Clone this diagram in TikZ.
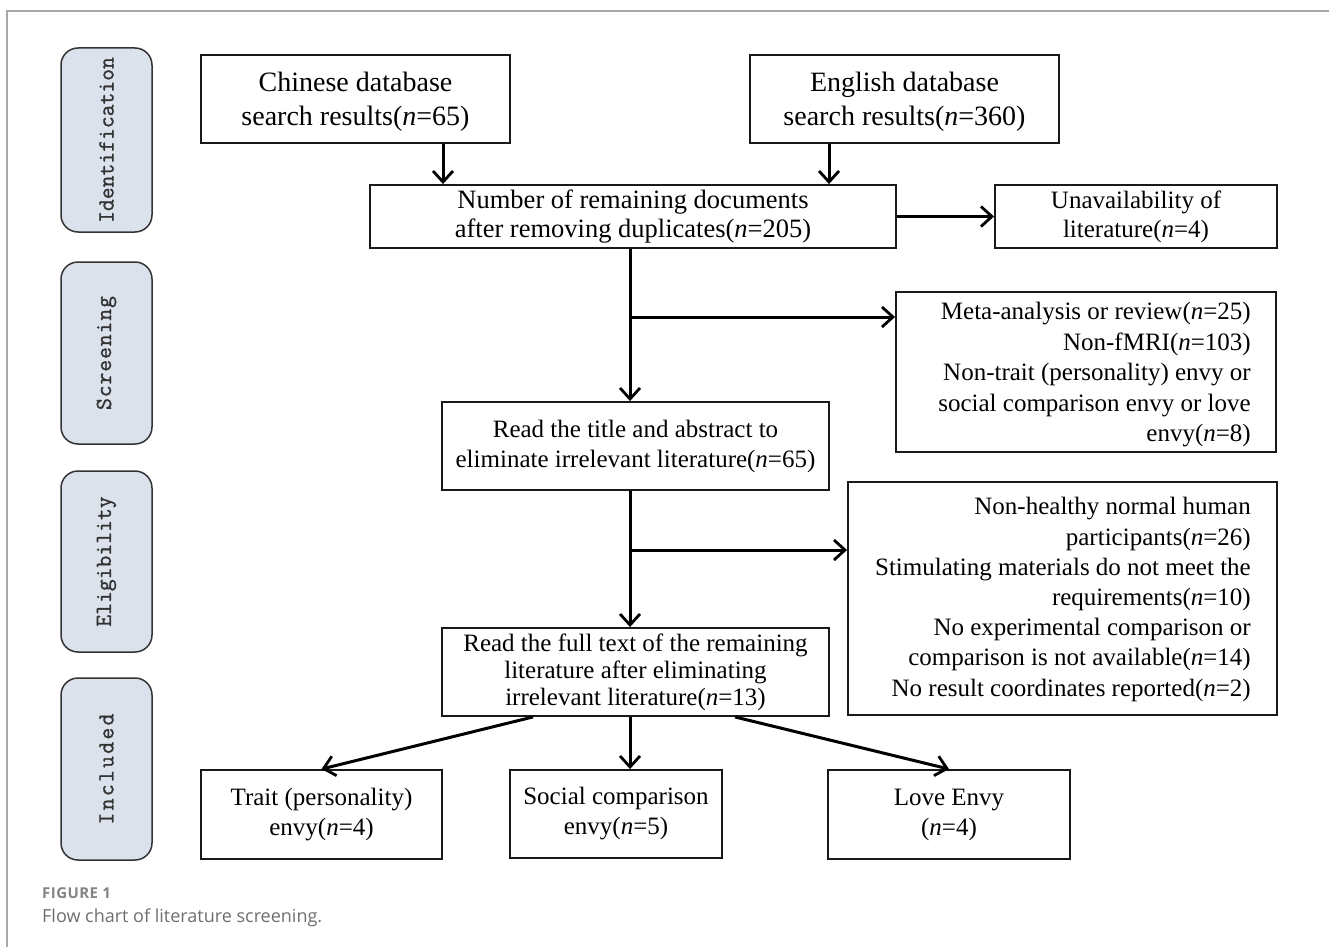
\documentclass[tikz,border=0pt]{standalone}
\usepackage{fontspec}
\setmainfont{Liberation Serif}
\newfontfamily\capfont{Open Sans}
\newfontfamily\stagefont[FakeBold=1.2]{Latin Modern Mono}
\usetikzlibrary{arrows.meta,calc}
\definecolor{stagefill}{HTML}{DCE2EC}
\definecolor{stageline}{HTML}{333333}
\definecolor{framegray}{HTML}{A8A8A8}
\definecolor{capgray}{HTML}{6E6E6E}
\tikzset{
  box/.style={draw=black!90, line width=1.9pt, inner sep=0pt, align=center,
              font=\fontsize{25}{30}\selectfont},
  rtext/.style={inner sep=0pt, align=right, anchor=east,
              font=\fontsize{25}{30.5}\selectfont},
  ctext/.style={inner sep=0pt, align=center},
  stage/.style={draw=stageline, fill=stagefill, line width=1.5pt, rounded corners=17pt,
              minimum width=91pt, inner sep=0pt},
  stagetext/.style={rotate=90, text=stageline, font=\stagefont\fontsize{23}{26}\selectfont},
  arr/.style={line width=3pt, -{Straight Barb[length=11pt,width=20pt,line width=2.8pt]}},
}
\begin{document}
\begin{tikzpicture}[x=1pt,y=-1pt]
\useasboundingbox (0,0) rectangle (1329,947);
% frame
\draw[framegray, line width=2pt] (1329,11) -- (7,11) -- (7,947);

% stage boxes
\node[stage, minimum height=184pt] (s1) at (106.5,140) {};
\node[stagetext] (t1) at (s1.center) {Identification};
\node[stage, minimum height=182pt] (s2) at (106.5,353) {};
\node[stagetext] (t2) at (s2.center) {\addfontfeatures{LetterSpace=4}Screening};
\node[stage, minimum height=181pt] (s3) at (106.5,561.5) {};
\node[stagetext] (t3) at (s3.center) {Eligibility};
\node[stage, minimum height=182pt] (s4) at (106.5,769) {};
\node[stagetext] (t4) at (s4.center) {\addfontfeatures{LetterSpace=10}Included};

% main boxes
\node[box, minimum width=309pt, minimum height=88pt] (chin) at (355.5,99) {};
\node[ctext, font=\fontsize{28}{34}\selectfont] (chint) at ([yshift=-3pt]chin.center)
  {Chinese database\\search results(\textit{n}=65)};
\node[box, minimum width=309pt, minimum height=88pt] (eng) at (904.5,99) {};
\node[ctext, font=\fontsize{28}{34}\selectfont] (engt) at ([yshift=-3pt]eng.center)
  {English database\\search results(\textit{n}=360)};
\node[box, minimum width=526pt, minimum height=63pt, font=\fontsize{26.5}{29}\selectfont] (rem) at (633,216.5)
  {Number of remaining documents\\after removing duplicates(\textit{n}=205)};
\node[box, minimum width=282pt, minimum height=63pt, font=\fontsize{25}{29}\selectfont] (unav) at (1136,216.5)
  {Unavailability of\\literature(\textit{n}=4)};
\node[box, minimum width=380pt, minimum height=160pt] (meta) at (1086,372) {};
\node[rtext] (metat) at ([xshift=-26pt,yshift=-3pt]meta.east)
  {Meta-analysis or review(\textit{n}=25)\\Non-fMRI(\textit{n}=103)\\Non-trait (personality) envy or\\social comparison envy or love\\envy(\textit{n}=8)};
\node[box, minimum width=387pt, minimum height=88pt] (title) at (635.5,446)
  {Read the title and abstract to\\eliminate irrelevant literature(\textit{n}=65)};
\node[box, minimum width=429pt, minimum height=233pt] (nonh) at (1062.5,598.5) {};
\node[rtext, font=\fontsize{25}{30.2}\selectfont] (nonht) at ([xshift=-27pt,yshift=-1pt]nonh.east)
  {Non-healthy normal human\\participants(\textit{n}=26)\\Stimulating materials do not meet the\\requirements(\textit{n}=10)\\No experimental comparison or\\comparison is not available(\textit{n}=14)\\No result coordinates reported(\textit{n}=2)};
\node[box, minimum width=387pt, minimum height=88pt, font=\fontsize{25}{27}\selectfont] (full) at (635.5,672)
  {Read the full text of the remaining\\literature after eliminating\\irrelevant literature(\textit{n}=13)};
\node[box, minimum width=241pt, minimum height=89pt] (trait) at (321.5,814.5)
  {Trait (personality)\\envy(\textit{n}=4)};
\node[box, minimum width=212pt, minimum height=88pt] (social) at (616,814)
  {Social comparison\\envy(\textit{n}=5)};
\node[box, minimum width=242pt, minimum height=89pt] (love) at (949,814.5)
  {Love Envy\\(\textit{n}=4)};

% helper coordinates
\coordinate (v) at (630,0);
\coordinate (b1) at (630,317);
\coordinate (b2) at (630,550);

% connectors
\draw[arr] ([xshift=87.5pt]chin.south) -- ([xshift=87.5pt]chin.south |- rem.north);
\draw[arr] ([xshift=-75.5pt]eng.south) -- ([xshift=-75.5pt]eng.south |- rem.north);
\draw[arr] (rem.east) -- (unav.west);
\draw[arr] (rem.south -| v) -- (title.north -| v);
\draw[arr] (b1) -- (b1 -| meta.west);
\draw[arr] (title.south -| v) -- (full.north -| v);
\draw[arr] (b2) -- (b2 -| nonh.west);
\draw[arr] ([xshift=-102.5pt]full.south) -- (trait.north);
\draw[arr] (full.south -| v) -- (social.north -| v);
\draw[arr] ([xshift=99.5pt]full.south) -- (love.north);

% caption
\node[anchor=base west, inner sep=0pt, text=capgray!85, font=\capfont\bfseries\fontsize{15}{17}\selectfont] (fig) at (42,898) {\addfontfeatures{LetterSpace=3}FIGURE 1};
\node[anchor=base west, inner sep=0pt, text=capgray, font=\capfont\fontsize{18}{20}\selectfont] (cap) at (42,922) {Flow chart of literature screening.};
\end{tikzpicture}
\end{document}
